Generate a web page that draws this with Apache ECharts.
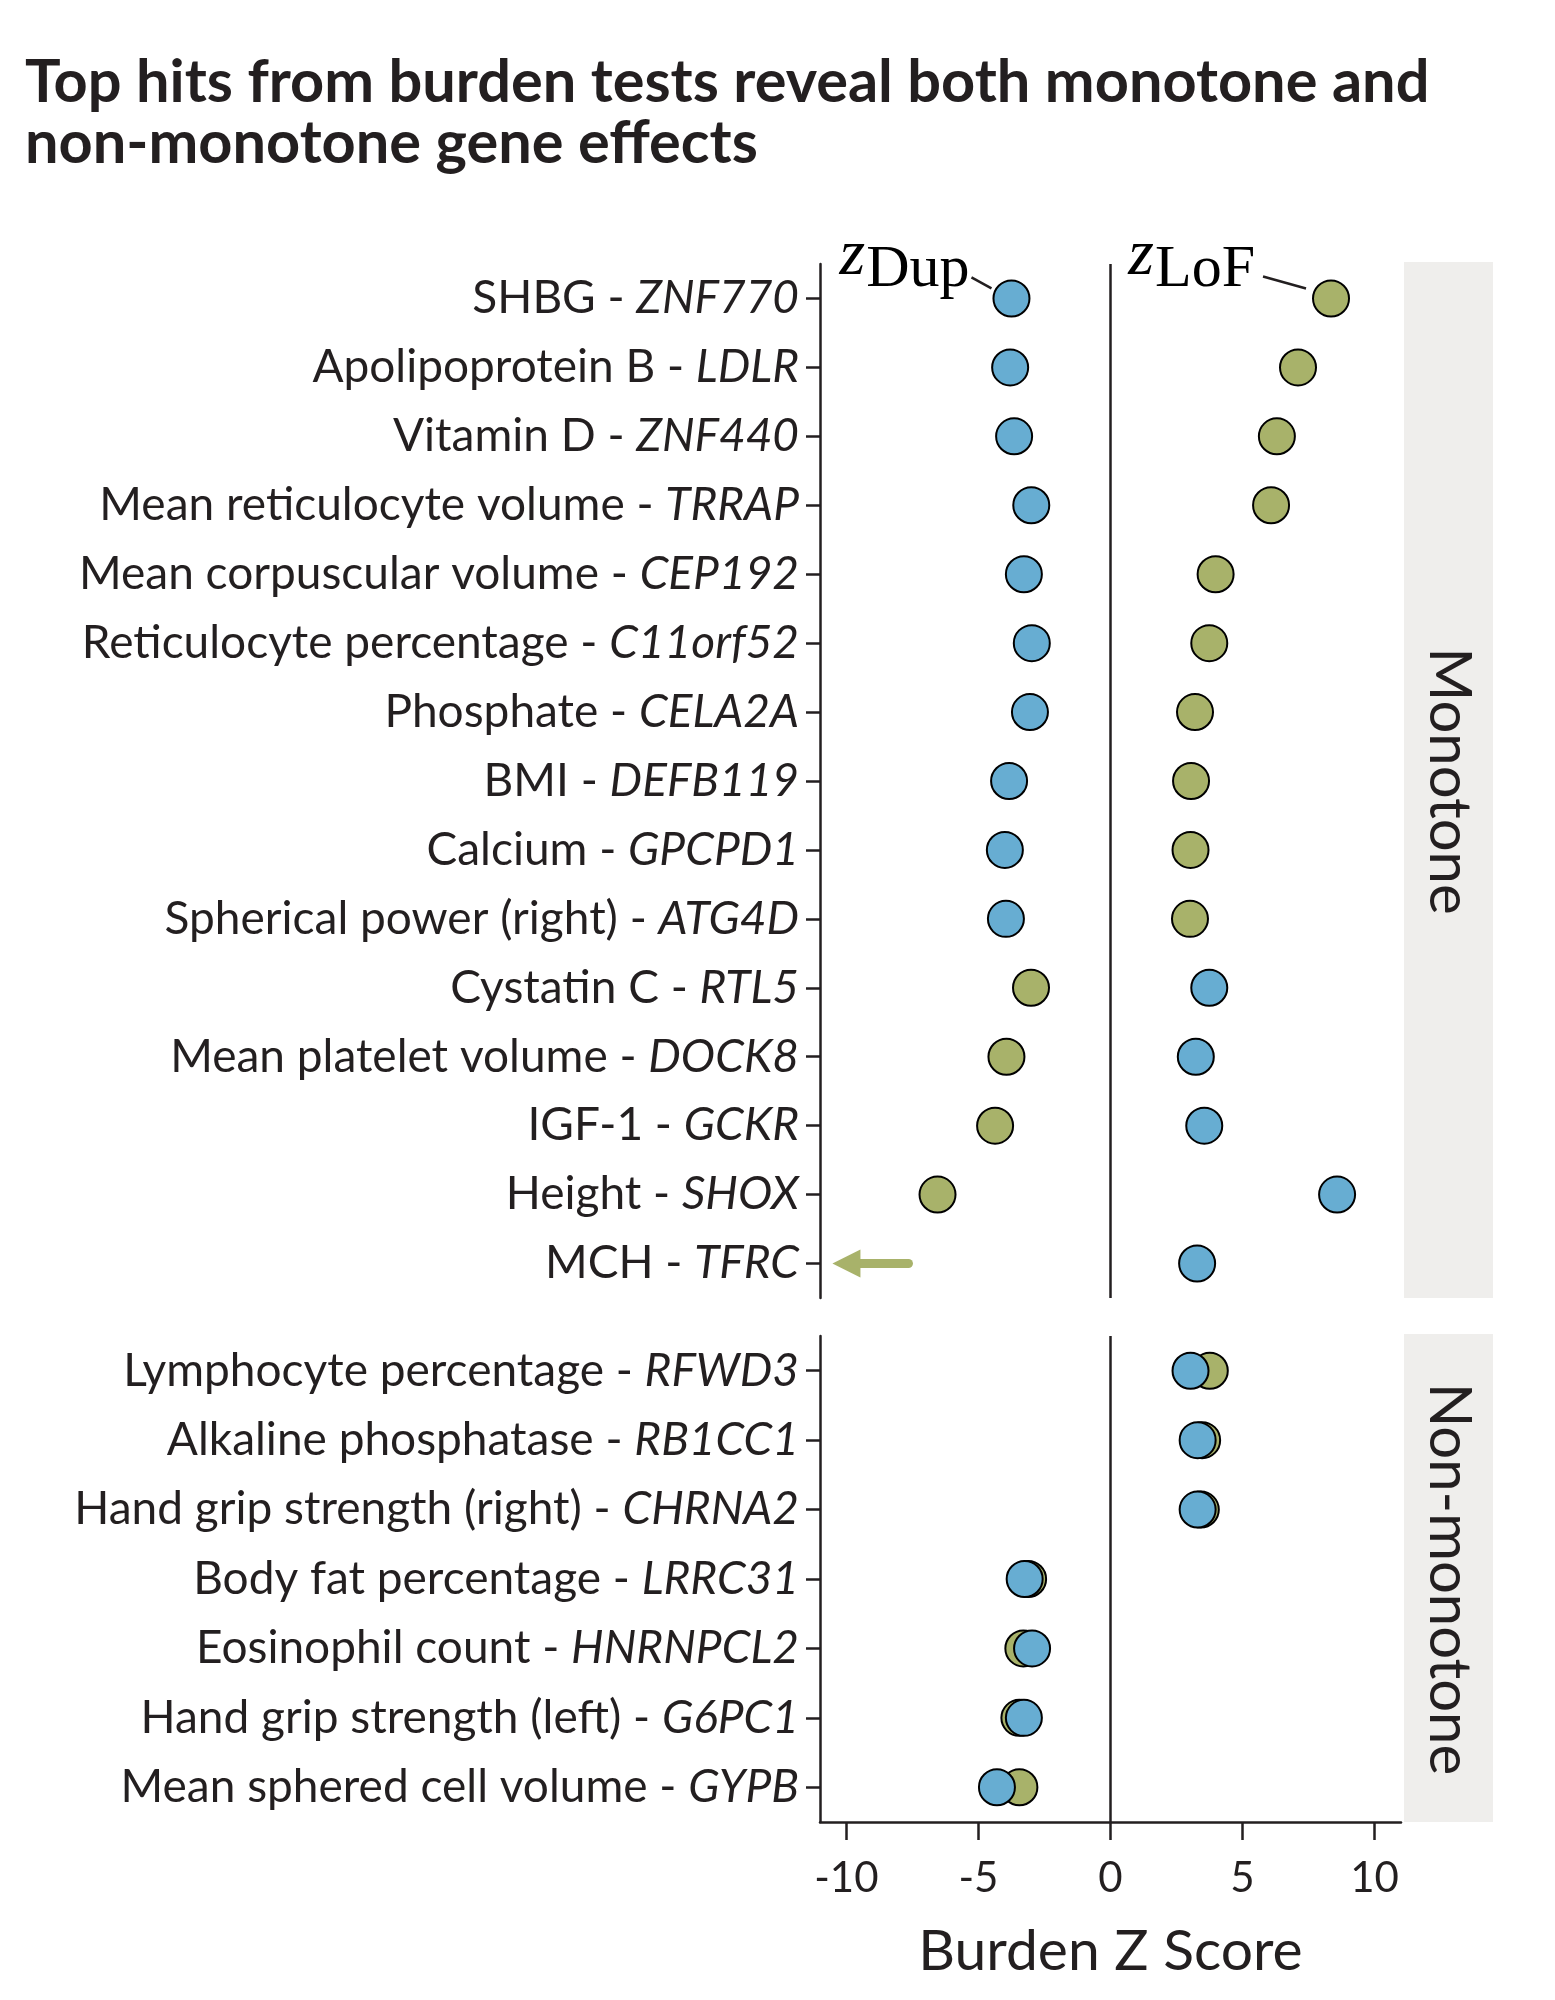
<!DOCTYPE html>
<html><head><meta charset="utf-8">
<script src="https://cdn.jsdelivr.net/npm/echarts@6/dist/echarts.min.js"></script>
<style>html,body{margin:0;padding:0;background:#fff}#c{width:1555px;height:2000px}</style>
</head><body><div id="c"></div>
<script>
// ---------- data ----------
const monoTraits = ['SHBG','Apolipoprotein B','Vitamin D','Mean reticulocyte volume','Mean corpuscular volume','Reticulocyte percentage','Phosphate','BMI','Calcium','Spherical power (right)','Cystatin C','Mean platelet volume','IGF-1','Height','MCH'];
const monoGenes  = ['ZNF770','LDLR','ZNF440','TRRAP','CEP192','C11orf52','CELA2A','DEFB119','GPCPD1','ATG4D','RTL5','DOCK8','GCKR','SHOX','TFRC'];
const monoDup    = [-3.75,-3.8,-3.65,-3.0,-3.28,-2.98,-3.05,-3.84,-4.0,-3.96,3.74,3.23,3.55,8.58,3.28];
const monoLoF    = [8.35,7.1,6.3,6.08,3.98,3.74,3.2,3.05,3.03,3.01,-3.01,-3.94,-4.37,-6.55,null];
const nonTraits  = ['Lymphocyte percentage','Alkaline phosphatase','Hand grip strength (right)','Body fat percentage','Eosinophil count','Hand grip strength (left)','Mean sphered cell volume'];
const nonGenes   = ['RFWD3','RB1CC1','CHRNA2','LRRC31','HNRNPCL2','G6PC1','GYPB'];
const nonDup     = [3.03,3.3,3.3,-3.25,-2.97,-3.28,-4.3];
const nonLoF     = [3.76,3.47,3.42,-3.12,-3.3,-3.45,-3.45];
// LoF value of MCH - TFRC lies beyond the axis: drawn as an arrow
const offscaleRow = 14;
const offscaleArrow = [-7.65, -10.0];
const xTicks = [-10,-5,0,5,10];
const xRange = [-11, 11];
const facetLabels = ['Monotone','Non-monotone'];
const titleText = 'Top hits from burden tests reveal both monotone and\nnon-monotone gene effects';
const axisTitle = 'Burden Z Score';

// ---------- style ----------
const INK = '#231f20', BLUE = '#67add2', GREEN = '#a8b26a', STRIP = '#efeeec';
const FONT = 'Lato', SERIF = 'Liberation Serif';
const G = [{left:820, top:264, width:581, height:1034},{left:820, top:1336, width:581, height:486}];
const LW = 2.5;

const cat = (t,g)=>t.map((x,i)=>x+' - '+g[i]);
const monoCats = cat(monoTraits, monoGenes), nonCats = cat(nonTraits, nonGenes);

function yAxis(idx, data){
  return {type:'category', gridIndex:idx, data, inverse:true,
    axisLine:{show:true, onZero:false, lineStyle:{color:INK,width:LW}},
    axisTick:{show:true, alignWithLabel:true, length:14, lineStyle:{color:INK,width:LW}},
    axisLabel:{interval:0, margin:21, formatter:v=>{const k=v.lastIndexOf(' - ');return '{n|'+v.slice(0,k)+' - }{g|'+v.slice(k+3)+'}';},
      rich:{n:{fontFamily:FONT,fontSize:46,color:INK}, g:{fontFamily:FONT,fontSize:46,fontStyle:'italic',color:INK}}},
    splitLine:{show:false}};
}
const pts = (arr)=>arr.map((v,i)=>v==null?null:[v,i]).filter(d=>d);
const zeroLine = {silent:true, symbol:'none', label:{show:false}, emphasis:{disabled:true}, lineStyle:{color:INK,width:LW,type:'solid'}, data:[{xAxis:0}]};
function sc(xi, data, color, extra){
  return Object.assign({type:'scatter', xAxisIndex:xi, yAxisIndex:xi, data:pts(data), symbolSize:36,
    itemStyle:{color, borderColor:'#000', borderWidth:2, opacity:1}, emphasis:{disabled:true}}, extra||{});
}

const chart = echarts.init(document.getElementById('c'), null, {renderer:'canvas'});
const option = {
  animation:false,
  backgroundColor:'#fff',
  title:{text:titleText, left:25, top:52, padding:0, textStyle:{fontFamily:FONT, fontSize:59.5, fontWeight:'bold', color:INK, lineHeight:61}},
  grid:G,
  xAxis:[
    {type:'value', gridIndex:0, min:xRange[0], max:xRange[1], show:false, splitLine:{show:false}},
    {type:'value', gridIndex:1, min:xRange[0], max:xRange[1],
      axisLine:{show:true, onZero:false, lineStyle:{color:INK,width:LW}},
      axisTick:{show:true, length:18, customValues:xTicks, lineStyle:{color:INK,width:LW}},
      axisLabel:{customValues:xTicks, fontFamily:FONT, fontSize:42, margin:35, color:INK},
      splitLine:{show:false},
      name:axisTitle, nameLocation:'middle', nameGap:101, nameTextStyle:{fontFamily:FONT, fontSize:57, color:INK}}
  ],
  yAxis:[yAxis(0, monoCats), yAxis(1, nonCats)],
  series:[
    sc(0, monoLoF, GREEN, {markLine:zeroLine, z:3}),
    sc(0, monoDup, BLUE, {z:4}),
    {type:'lines', coordinateSystem:'cartesian2d', xAxisIndex:0, yAxisIndex:0, z:3,
      data:[{coords:[[offscaleArrow[0],offscaleRow],[offscaleArrow[1],offscaleRow]]}],
      symbol:['none','triangle'], symbolSize:28,
      lineStyle:{color:GREEN, width:9, cap:'round', opacity:1}, emphasis:{disabled:true}},
    sc(1, nonLoF, GREEN, {markLine:zeroLine, z:3}),
    sc(1, nonDup, BLUE, {z:4})
  ]
};
chart.setOption(option);

// ---------- facet strips & annotations ----------
const ctx = document.createElement('canvas').getContext('2d');
function tw(text, size, style){ ctx.font = (style||'')+' '+size+'px "'+SERIF+'"'; return ctx.measureText(text).width; }
const graphics = [];
G.forEach((g,i)=>{
  graphics.push({type:'rect', shape:{x:g.left+g.width+3, y:g.top-2, width:89, height:g.height+2}, style:{fill:STRIP}, silent:true, z:0});
  graphics.push({type:'text', x:g.left+g.width+3+44.5, y:g.top+g.height/2, rotation:-Math.PI/2,
    style:{text:facetLabels[i], fontFamily:FONT, fontSize:58, fill:INK, align:'center', verticalAlign:'middle'}, silent:true});
});
const AF = 60, ZF = 66;
function annot(val, sub, textDx, l0, l1){
  const p = chart.convertToPixel({xAxisIndex:0, yAxisIndex:0}, [val, 0]);
  const ax = p[0]+textDx, my = p[1]-28;
  const w = tw(sub, AF, '');
  graphics.push({type:'text', x:ax, y:my, style:{text:sub, fontFamily:SERIF, fontSize:AF, fill:'#000', align:'right', verticalAlign:'middle'}, silent:true});
  graphics.push({type:'text', x:ax-w-1, y:my-14, style:{text:'z', fontFamily:SERIF, fontStyle:'italic', fontSize:ZF, fill:'#000', align:'right', verticalAlign:'middle'}, silent:true});
  graphics.push({type:'line', shape:{x1:p[0]+l0[0], y1:p[1]+l0[1], x2:p[0]+l1[0], y2:p[1]+l1[1]}, style:{stroke:INK, lineWidth:LW}, silent:true});
}
annot(monoDup[0], 'Dup', -42, [-40,-21], [-20,-10]);
annot(monoLoF[0], 'LoF', -76, [-68,-22], [-25,-10]);
chart.setOption({graphic:graphics});
</script></body></html>
